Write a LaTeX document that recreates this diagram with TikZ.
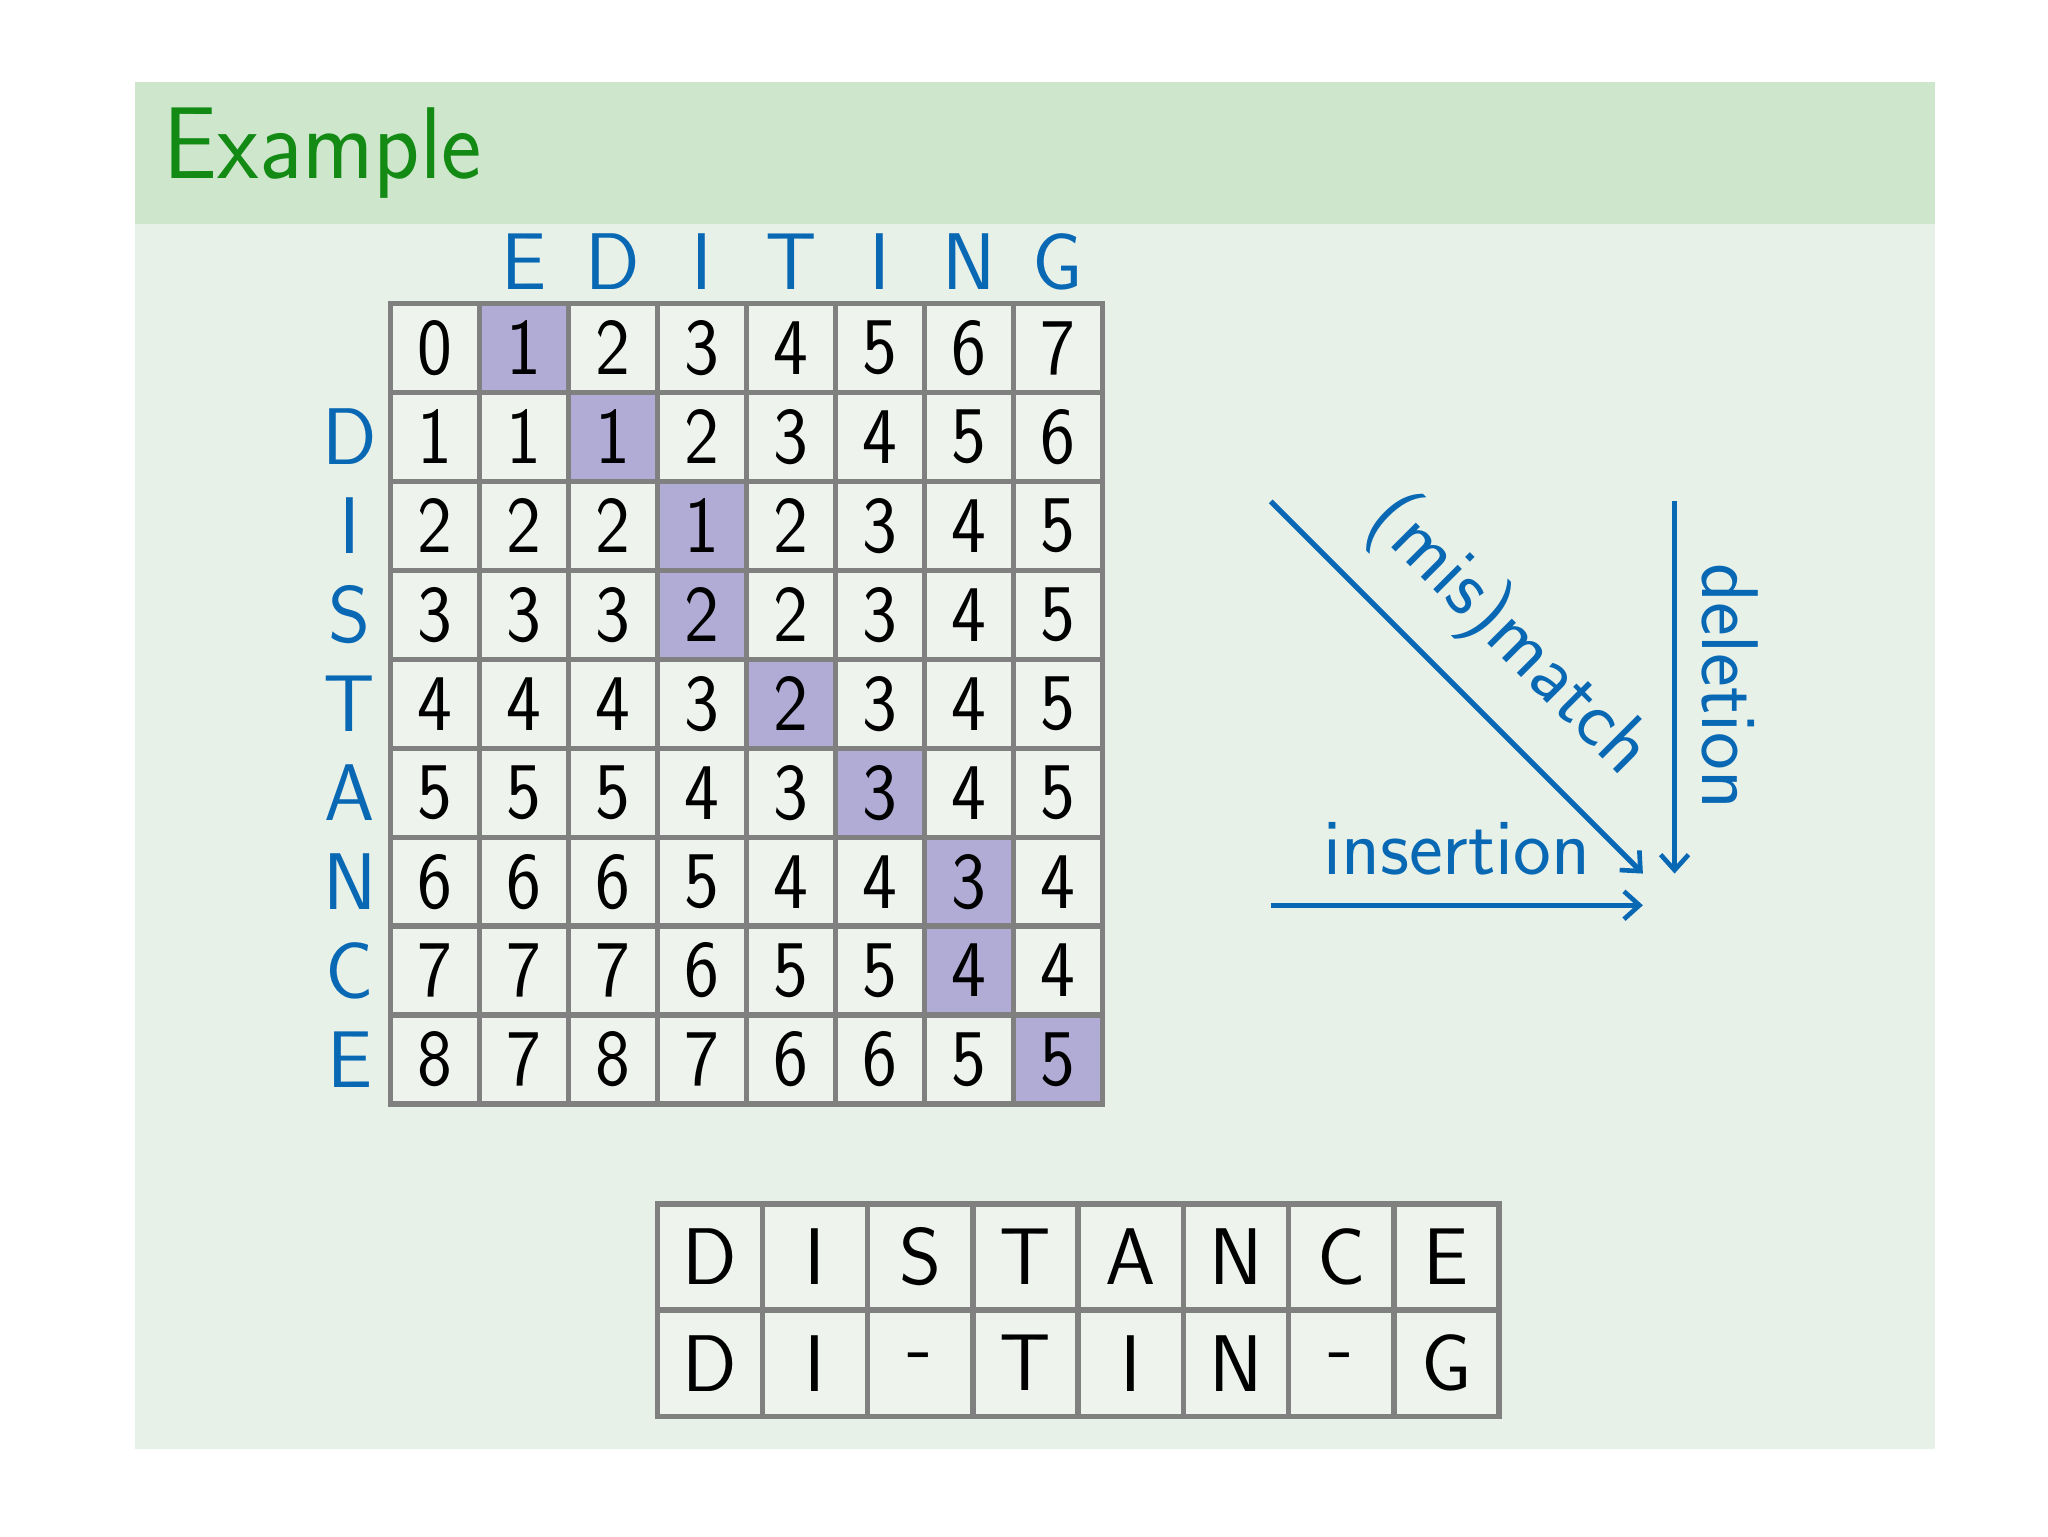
\documentclass[tikz,border=0pt]{standalone}
\usetikzlibrary{arrows.meta}
\definecolor{hdr}{HTML}{CDE6CC}
\definecolor{bdy}{HTML}{E8F1E8}
\definecolor{cellc}{HTML}{EEF3EE}
\definecolor{hil}{HTML}{B1ACD6}
\definecolor{blu}{HTML}{0868B4}
\definecolor{grn}{HTML}{138A13}
\definecolor{gr}{HTML}{808080}
\begin{document}
\begin{tikzpicture}[x=0.03cm,y=-0.03cm,
  cell/.style={draw=gr,fill=cellc,line width=3.4pt,minimum size=2.022cm,inner sep=0pt,font=\fontsize{52}{53}\selectfont\sffamily},
  hcell/.style={cell,fill=hil},
  bcell/.style={draw=gr,fill=cellc,line width=3.4pt,minimum width=2.39cm,minimum height=2.41cm,inner sep=0pt,font=\fontsize{52}{53}\selectfont\sffamily},
  lab/.style={text=blu,font=\fontsize{52}{53}\selectfont\sffamily,inner sep=0pt},
  arr/.style={draw=blu,line width=3.4pt,-{Straight Barb[length=10pt,width=18pt,line width=3pt]}},
  alab/.style={text=blu,font=\fontsize{52}{53}\selectfont\sffamily,inner sep=0pt}]
\useasboundingbox (0,0) rectangle (1552,1164);
\fill[white] (0,0) rectangle (1552,1164);
\fill[bdy] (102,62) rectangle (1466,1098);
\fill[hdr] (102,62) rectangle (1466,170);
\node[anchor=base west,text=grn,font=\fontsize{66}{70}\selectfont\sffamily,inner sep=0pt] (title) at (124,135) {\scalebox{0.94}[1]{Example}};
\foreach \r/\row in {0/{0,1,2,3,4,5,6,7},1/{1,1,1,2,3,4,5,6},2/{2,2,2,1,2,3,4,5},3/{3,3,3,2,2,3,4,5},4/{4,4,4,3,2,3,4,5},5/{5,5,5,4,3,3,4,5},6/{6,6,6,5,4,4,3,4},7/{7,7,7,6,5,5,4,4},8/{8,7,8,7,6,6,5,5}}{
  \foreach \v [count=\c from 0] in \row {
    \node[cell] (c-\r-\c) at ({329.7+67.4*\c},{263.7+67.4*\r}) {};
  }
}
\foreach \r/\c in {0/1,1/2,2/3,3/3,4/4,5/5,6/6,7/6,8/7}{
  \node[hcell] at (c-\r-\c) {};
}
\foreach \r/\row in {0/{0,1,2,3,4,5,6,7},1/{1,1,1,2,3,4,5,6},2/{2,2,2,1,2,3,4,5},3/{3,3,3,2,2,3,4,5},4/{4,4,4,3,2,3,4,5},5/{5,5,5,4,3,3,4,5},6/{6,6,6,5,4,4,3,4},7/{7,7,7,6,5,5,4,4},8/{8,7,8,7,6,6,5,5}}{
  \foreach \v [count=\c from 0] in \row {
    \node[font=\fontsize{52}{53}\selectfont\sffamily,inner sep=0pt] (t-\r-\c) at (c-\r-\c) {\scalebox{0.92}[1]{\v}};
  }
}
\foreach \l [count=\c from 1] in {E,D,I,T,I,N,G}{
  \node[lab,anchor=base] (col\c) at ({329.7+67.4*\c},219) {\l};
}
\foreach \l [count=\r from 1] in {D,I,S,T,A,N,C,E}{
  \node[lab] (row\r) at (265,{263.7+67.4*\r}) {\l};
}
\coordinate (dA) at (963,380); \coordinate (dB) at (1245,662);
\coordinate (vA) at (1269,380); \coordinate (vB) at (1269,662);
\coordinate (hA) at (963,686); \coordinate (hB) at (1245,686);
\draw[arr] (dA) -- (dB);
\draw[arr] (vA) -- (vB);
\draw[arr] (hA) -- (hB);
\node[alab,rotate=-45] (mm) at (1143,482) {(mis)match};
\node[alab,rotate=-90] (del) at (1311,520) {deletion};
\node[alab,anchor=base] (ins) at (1104,663) {insertion};
\foreach \l [count=\c from 0] in {D,I,S,T,A,N,C,E}{
  \node[bcell] (a-\c) at ({537.9+79.75*\c},952.5) {\l};
}
\foreach \l [count=\c from 0] in {D,I,-,T,I,N,-,G}{
  \node[bcell] (b-\c) at ({537.9+79.75*\c},1033) {\l};
}
\end{tikzpicture}
\end{document}
